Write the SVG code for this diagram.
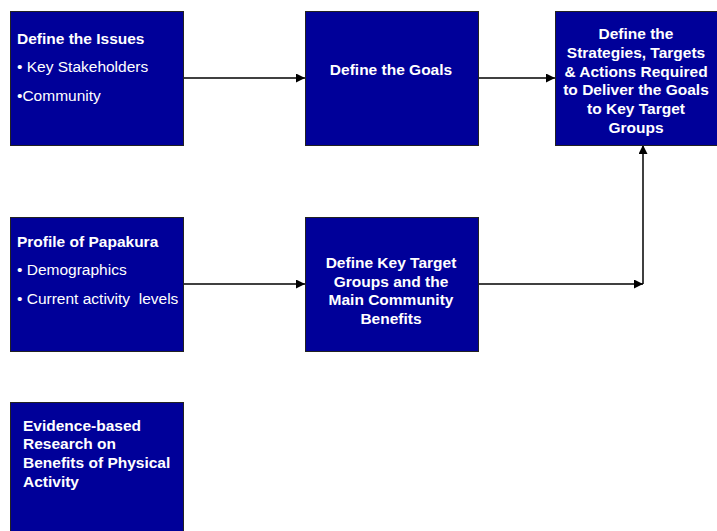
<svg xmlns="http://www.w3.org/2000/svg" width="717" height="531" viewBox="0 0 717 531">
<defs>
<marker id="ah" viewBox="0 0 10 10" refX="10" refY="5" markerWidth="10" markerHeight="9" markerUnits="userSpaceOnUse" orient="auto"><path d="M0,0 L10,5 L0,10 Z" fill="#000"/></marker>
<style>
.box{fill:#000099;stroke:#222;stroke-width:1}
.t{font-family:"Liberation Sans",Arial,sans-serif;font-size:15.5px;fill:#fff}
.b{font-weight:bold}
.c{text-anchor:middle}
.ln{fill:none;stroke:#000;stroke-width:1.5}
</style>
</defs>
<rect width="717" height="531" fill="#fff"/>
<g id="connectors">
<line class="ln" x1="183" y1="78" x2="305" y2="78" marker-end="url(#ah)"/>
<line class="ln" x1="478" y1="78" x2="555" y2="78" marker-end="url(#ah)"/>
<line class="ln" x1="183" y1="284" x2="305" y2="284" marker-end="url(#ah)"/>
<line class="ln" x1="478" y1="284" x2="643" y2="284" marker-end="url(#ah)"/>
<line class="ln" x1="643" y1="284" x2="643" y2="145" marker-end="url(#ah)"/>
</g>
<g id="issues">
<rect class="box" x="10.5" y="11.5" width="173" height="134"/>
<text class="t b" x="17" y="44">Define the Issues</text>
<text class="t" x="17" y="72">• Key Stakeholders</text>
<text class="t" x="17" y="101">•Community</text>
</g>
<g id="goals">
<rect class="box" x="305.5" y="11.5" width="173" height="134"/>
<text class="t b c" x="391" y="75">Define the Goals</text>
</g>
<g id="strategies">
<rect class="box" x="555.5" y="11.5" width="170" height="134"/>
<text class="t b c" x="636" y="39">Define the</text>
<text class="t b c" x="636" y="58">Strategies, Targets</text>
<text class="t b c" x="636" y="77">&amp; Actions Required</text>
<text class="t b c" x="636" y="95">to Deliver the Goals</text>
<text class="t b c" x="636" y="114">to Key Target</text>
<text class="t b c" x="636" y="133">Groups</text>
</g>
<g id="profile">
<rect class="box" x="10.5" y="217.5" width="173" height="134"/>
<text class="t b" x="17" y="247">Profile of Papakura</text>
<text class="t" x="17" y="275">• Demographics</text>
<text class="t" x="17" y="304" xml:space="preserve">• Current activity  levels</text>
</g>
<g id="targetgroups">
<rect class="box" x="305.5" y="217.5" width="173" height="134"/>
<text class="t b c" x="391" y="268">Define Key Target</text>
<text class="t b c" x="391" y="287">Groups and the</text>
<text class="t b c" x="391" y="305">Main Community</text>
<text class="t b c" x="391" y="324">Benefits</text>
</g>
<g id="evidence">
<rect class="box" x="10.5" y="402.5" width="173" height="140"/>
<text class="t b" x="23" y="431">Evidence-based</text>
<text class="t b" x="23" y="449">Research on</text>
<text class="t b" x="23" y="468">Benefits of Physical</text>
<text class="t b" x="23" y="487">Activity</text>
</g>
</svg>
